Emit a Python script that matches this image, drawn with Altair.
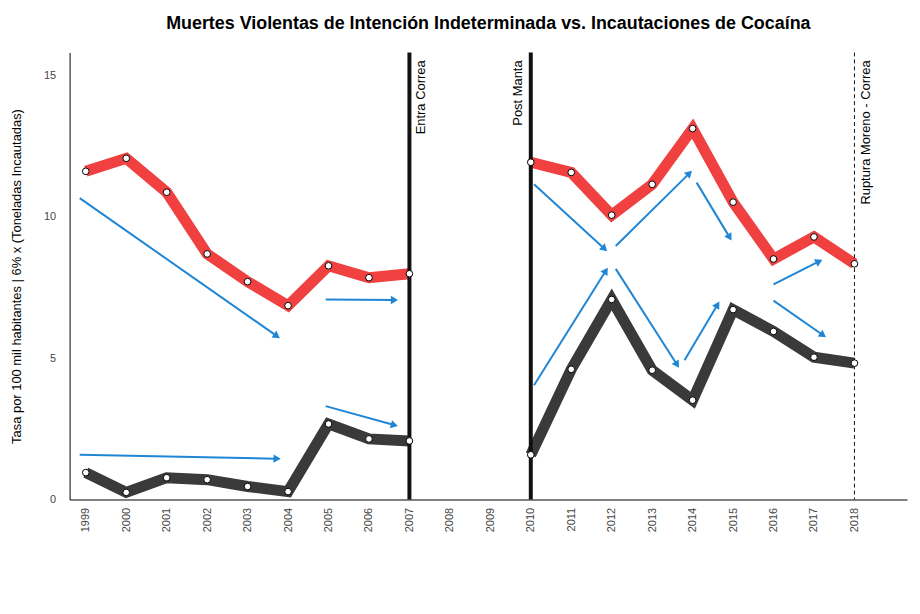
import math

import altair as alt
import pandas as pd

years_a = [1999, 2000, 2001, 2002, 2003, 2004, 2005, 2006, 2007]
years_b = [2010, 2011, 2012, 2013, 2014, 2015, 2016, 2017, 2018]
muertes_a = [11.6, 12.06, 10.86, 8.68, 7.70, 6.85, 8.26, 7.84, 7.98]
muertes_b = [11.92, 11.56, 10.05, 11.14, 13.11, 10.51, 8.50, 9.28, 8.33]
cocaina_a = [0.95, 0.25, 0.77, 0.70, 0.46, 0.28, 2.67, 2.14, 2.07]
cocaina_b = [1.58, 4.60, 7.07, 4.57, 3.51, 6.71, 5.94, 5.03, 4.82]

# arrows: (x0, y0, x1, y1)
arrows = [
    (1998.85, 10.65, 2003.7, 5.8),
    (2004.93, 7.07, 2006.6, 7.05),
    (1998.85, 1.58, 2003.7, 1.44),
    (2004.93, 3.3, 2006.6, 2.64),
    (2010.08, 11.14, 2011.8, 8.89),
    (2012.1, 8.96, 2013.9, 11.5),
    (2014.1, 11.2, 2014.9, 9.3),
    (2010.08, 4.04, 2011.84, 8.05),
    (2012.1, 8.15, 2013.6, 4.8),
    (2013.8, 4.92, 2014.6, 6.85),
    (2016.0, 7.6, 2017.1, 8.4),
    (2016.0, 7.03, 2017.2, 5.83),
]

events = [2007, 2010, 2018]
event_labels = ["Entra Correa", "Post Manta", "Ruptura Moreno - Correa"]

serie_m = "Muertes Violentas Indeterminadas"
serie_c = "Toneladas de Cocaína Incautadas"

rows = []
for tramo, yrs, m, c in [("a", years_a, muertes_a, cocaina_a), ("b", years_b, muertes_b, cocaina_b)]:
    for y, vm, vc in zip(yrs, m, c):
        rows.append({"year": y, "valor": vm, "serie": serie_m, "tramo": tramo})
        rows.append({"year": y, "valor": vc, "serie": serie_c, "tramo": tramo})
df = pd.DataFrame(rows)

W, H = 843, 450
x_dom = [1998.6, 2019.3]
y_dom = [0, 15.8]
px_x = W / (x_dom[1] - x_dom[0])
px_y = H / (y_dom[1] - y_dom[0])

arr = pd.DataFrame(arrows, columns=["x0", "y0", "x1", "y1"])
arr["ang"] = [
    (math.degrees(math.atan2((r.x1 - r.x0) * px_x, (r.y1 - r.y0) * px_y)) + 360) % 360
    for r in arr.itertuples()
]

x = alt.X("year:Q", scale=alt.Scale(domain=x_dom, nice=False, zero=False),
          axis=alt.Axis(values=list(range(1999, 2019)), format="d", labelAngle=-90,
                        title=None, grid=False, ticks=False, labelFontSize=11,
                        labelColor="#444", domainColor="#000", labelPadding=8))
y = alt.Y("valor:Q", scale=alt.Scale(domain=y_dom, nice=False),
          axis=alt.Axis(values=[0, 5, 10, 15], grid=False, ticks=False, labelColor="#444",
                        labelFontSize=11, domainColor="#000", labelPadding=14,
                        title="Tasa por 100 mil habitantes   |    6% x (Toneladas Incautadas)",
                        titleFontWeight="normal", titleFontSize=13, titlePadding=20))

color = alt.Color("serie:N", scale=alt.Scale(domain=[serie_m, serie_c], range=["#f04040", "#3a3a3a"]),
                  legend=alt.Legend(orient="bottom", title=None, symbolType="square",
                                    symbolSize=250, symbolOpacity=1, symbolStrokeWidth=0,
                                    symbolFillColor="#e8101a", labelFontSize=12, labelLimit=400,
                                    columnPadding=30, offset=55, direction="horizontal"))

base = alt.Chart(df)
lines = base.mark_line(strokeWidth=11).encode(x=x, y=y, color=color, detail="tramo:N")
# legend-only fill: use a square point layer to give the legend filled symbols
legend_pts = base.mark_square(size=0, opacity=1, filled=True).encode(
    x="year:Q", y="valor:Q",
    fill=alt.Fill("serie:N", scale=alt.Scale(domain=[serie_m, serie_c], range=["#e8101a", "#000000"]),
                  legend=alt.Legend(orient="bottom", title=None, symbolType="square",
                                    symbolSize=250, labelFontSize=12, labelLimit=400,
                                    columnPadding=30, offset=55, direction="horizontal")))
lines = base.mark_line(strokeWidth=11).encode(
    x=x, y=y,
    color=alt.Color("serie:N", scale=alt.Scale(domain=[serie_m, serie_c], range=["#f04040", "#3a3a3a"]),
                    legend=None),
    detail="tramo:N")
points = base.mark_point(filled=True, fill="white", stroke="black", strokeWidth=1, size=45,
                         opacity=1).encode(x="year:Q", y="valor:Q")

ev = pd.DataFrame({"year": events, "lab": event_labels, "w": [4, 4, 1]})
rules_solid = alt.Chart(ev[ev.w > 1]).mark_rule(color="#111", strokeWidth=4).encode(x="year:Q")
rules_dash = alt.Chart(ev[ev.w == 1]).mark_rule(color="#111", strokeWidth=1, strokeDash=[4, 3]).encode(x="year:Q")
ev["side"] = [1, -1, 1]
ev_r = ev[ev.side > 0]
ev_l = ev[ev.side < 0]
lab_r = alt.Chart(ev_r).mark_text(angle=270, align="right", baseline="top", dx=-8, dy=6,
                                  fontSize=13).encode(x="year:Q", y=alt.value(0), text="lab:N")
lab_l = alt.Chart(ev_l).mark_text(angle=270, align="right", baseline="bottom", dx=-8, dy=-6,
                                  fontSize=13).encode(x="year:Q", y=alt.value(0), text="lab:N")

arrow_lines = alt.Chart(arr).mark_rule(color="#1f86d6", strokeWidth=2).encode(
    x="x0:Q", y="y0:Q", x2="x1:Q", y2="y1:Q")
arrow_heads = alt.Chart(arr).mark_point(shape="triangle", filled=True, color="#1f86d6",
                                        size=70, opacity=1).encode(
    x="x1:Q", y="y1:Q", angle=alt.Angle("ang:Q", scale=None))

chart = alt.layer(
    lines, legend_pts, rules_solid, rules_dash, lab_r, lab_l, arrow_lines, arrow_heads, points
).properties(
    width=W, height=H,
    title=alt.Title("Muertes Violentas de Intención Indeterminada  vs.  Incautaciones de Cocaína",
                    fontSize=18, font="Liberation Sans Narrow, Liberation Sans", fontWeight="bold",
                    anchor="middle", offset=18),
    padding={"left": 2, "top": 5, "right": 5, "bottom": 5},
).configure(font="Liberation Sans").configure_view(stroke=None)

chart.save("out.html", embed_options={"renderer": "svg", "actions": False})
